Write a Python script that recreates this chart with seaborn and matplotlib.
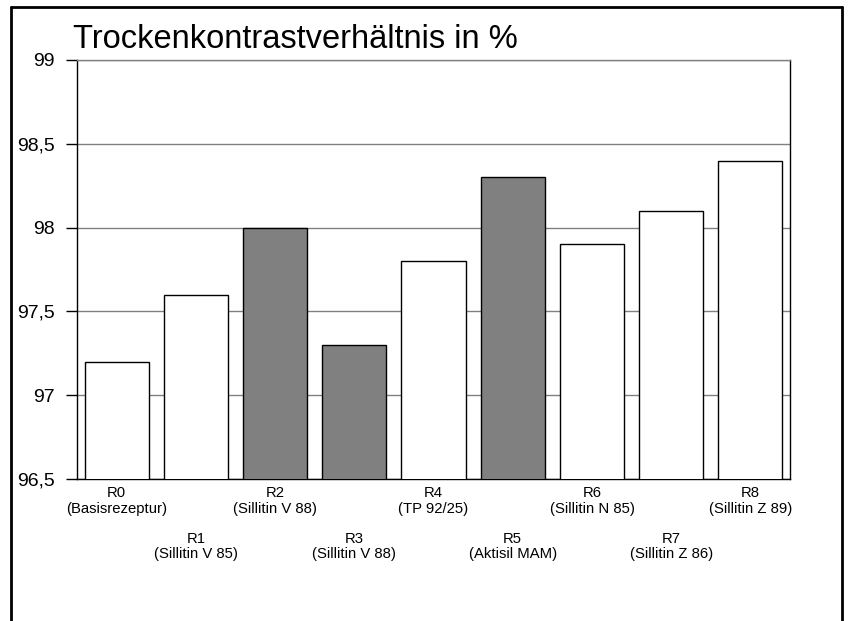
import matplotlib
matplotlib.use("Agg")
import matplotlib.pyplot as plt
from matplotlib.lines import Line2D
from matplotlib.ticker import FuncFormatter
import seaborn as sns
import pandas as pd

# Recipes and their dry contrast ratio (%)
codes = ["R0", "R1", "R2", "R3", "R4", "R5", "R6", "R7", "R8"]
fillers = ["Basisrezeptur", "Sillitin V 85", "Sillitin V 88", "Sillitin V 88",
           "TP 92/25", "Aktisil MAM", "Sillitin N 85", "Sillitin Z 86", "Sillitin Z 89"]
values = [97.2, 97.6, 98.0, 97.3, 97.8, 98.3, 97.9, 98.1, 98.4]
highlighted = ["R2", "R3", "R5"]
title = "Trockenkontrastverhältnis in %"

sns.set_theme(style="white")
plt.rcParams["font.family"] = ["Liberation Sans", "DejaVu Sans"]
plt.rcParams["text.color"] = "black"
plt.rcParams["xtick.color"] = "black"
plt.rcParams["ytick.color"] = "black"
plt.rcParams["axes.labelcolor"] = "black"

df = pd.DataFrame({"code": codes, "value": values})
palette = {c: ("#808080" if c in highlighted else "#ffffff") for c in codes}

fig = plt.figure(figsize=(8.49, 6.21), dpi=100)
ax = fig.add_axes([77 / 849, 1 - 479 / 621, (790 - 77) / 849, (479 - 60) / 621])

sns.barplot(data=df, x="code", y="value", hue="code", palette=palette,
            legend=False, width=0.81, edgecolor="black", linewidth=1.0,
            saturation=1, ax=ax, zorder=3)

ax.set_ylim(96.5, 99)
ax.set_yticks([96.5, 97, 97.5, 98, 98.5, 99])
ax.yaxis.set_major_formatter(FuncFormatter(lambda v, p: f"{v:g}".replace(".", ",")))
ax.grid(axis="y", color="#808080", linewidth=1.0, zorder=0)
ax.set_axisbelow(True)

# two-line category labels, every second one set lower (staggered)
labels = [f"{c}\n({f})" for c, f in zip(codes, fillers)]
ax.set_xticks(range(len(codes)))
ax.set_xticklabels(labels, fontsize=10.7, linespacing=1.15, va="top", color="black")
ax.tick_params(axis="x", length=0, pad=5)
for i, tick in enumerate(ax.xaxis.get_major_ticks()):
    if i % 2 == 1:
        tick.set_pad(38)
ax.tick_params(axis="y", direction="out", length=8, width=1, color="black",
               labelsize=14, labelcolor="black", pad=8, left=True)
ax.set_xlabel("")
ax.set_ylabel("")

for s in ["left", "bottom", "right"]:
    ax.spines[s].set_color("black")
    ax.spines[s].set_linewidth(1.0)
ax.spines["top"].set_color("#808080")
ax.spines["top"].set_linewidth(1.0)

fig.text(73 / 849, 1 - 48 / 621, title, fontsize=23.5, ha="left", va="baseline",
         color="black")

# frame around the figure (open at the bottom)
L, R, T = 11 / 849, 842 / 849, 1 - 7 / 621
for xs, ys in [([L, L], [T, -0.05]), ([L, R], [T, T]), ([R, R], [T, -0.05])]:
    fig.add_artist(Line2D(xs, ys, color="black", linewidth=2.0,
                          transform=fig.transFigure))

fig.savefig("out.png", dpi=100, facecolor="white")
